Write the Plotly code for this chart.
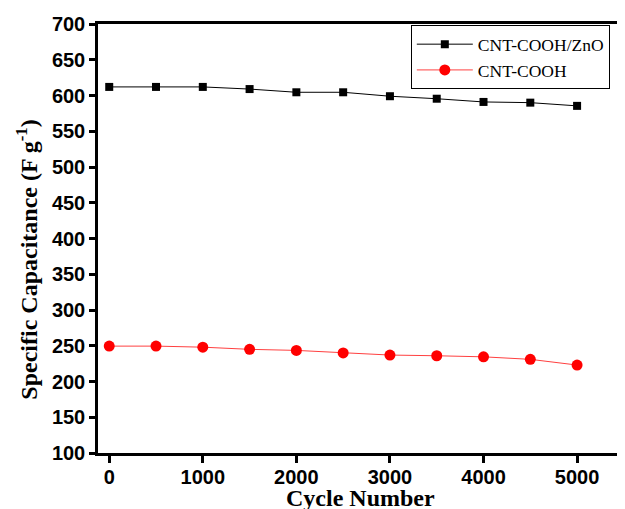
import plotly.graph_objects as go

cycles = [0, 500, 1000, 1500, 2000, 2500, 3000, 3500, 4000, 4500, 5000]
zno = [612, 612, 612, 609, 604.5, 604.5, 599, 595.5, 591, 590, 585.5]
cooh = [249.5, 249.5, 248, 245, 243.5, 240, 237, 236, 234.5, 231, 223]
xticks = [0, 1000, 2000, 3000, 4000, 5000]
yticks = list(range(100, 701, 50))
x_title = "Cycle Number"
y_title = "Specific Capacitance (F g<sup>-1</sup>)"

fig = go.Figure()
fig.add_trace(go.Scatter(x=cycles, y=zno, name="CNT-COOH/ZnO", mode="lines+markers",
                         line=dict(color="black", width=1),
                         marker=dict(symbol="square", size=8, color="black")))
fig.add_trace(go.Scatter(x=cycles, y=cooh, name="CNT-COOH", mode="lines+markers",
                         line=dict(color="#ff4040", width=1),
                         marker=dict(symbol="circle", size=11, color="#ff0000")))

tickfont = dict(family="Liberation Sans, Arial", size=20, color="black", weight="bold")
serif = "Liberation Serif, Times New Roman"
fig.update_layout(
    width=617, height=501,
    margin=dict(l=90, r=3, t=16, b=56),
    paper_bgcolor="white", plot_bgcolor="white",
    showlegend=True,
    legend=dict(x=0.597, y=0.997, xanchor="left", yanchor="top",
                bordercolor="black", borderwidth=1, bgcolor="white",
                font=dict(family=serif, size=17.5, color="black"),
                itemwidth=56, tracegroupgap=0),
    xaxis=dict(range=[-120, 5480], tickvals=xticks, ticks="outside", ticklen=7, tickwidth=2.5,
               tickcolor="black", showline=True, linecolor="black", linewidth=2.5, mirror=True,
               showgrid=False, zeroline=False, tickfont=tickfont, automargin=False,
               ticklabelstandoff=-3),
    yaxis=dict(range=[100, 700], tickvals=yticks, ticks="outside", ticklen=6, tickwidth=2.5,
               tickcolor="black", showline=True, linecolor="black", linewidth=2.5, mirror=True,
               showgrid=False, zeroline=False, tickfont=tickfont, automargin=False),
    annotations=[
        dict(text=x_title, xref="paper", yref="paper", x=0.5, y=-0.106, xanchor="center",
             yanchor="middle", showarrow=False,
             font=dict(family=serif, size=24, color="black", weight="bold")),
        dict(text=y_title, xref="paper", yref="paper", x=-0.136, y=0.45, xanchor="center",
             yanchor="middle", showarrow=False, textangle=-90,
             font=dict(family=serif, size=24, color="black", weight="bold")),
    ],
)
fig.write_html("out.html")
